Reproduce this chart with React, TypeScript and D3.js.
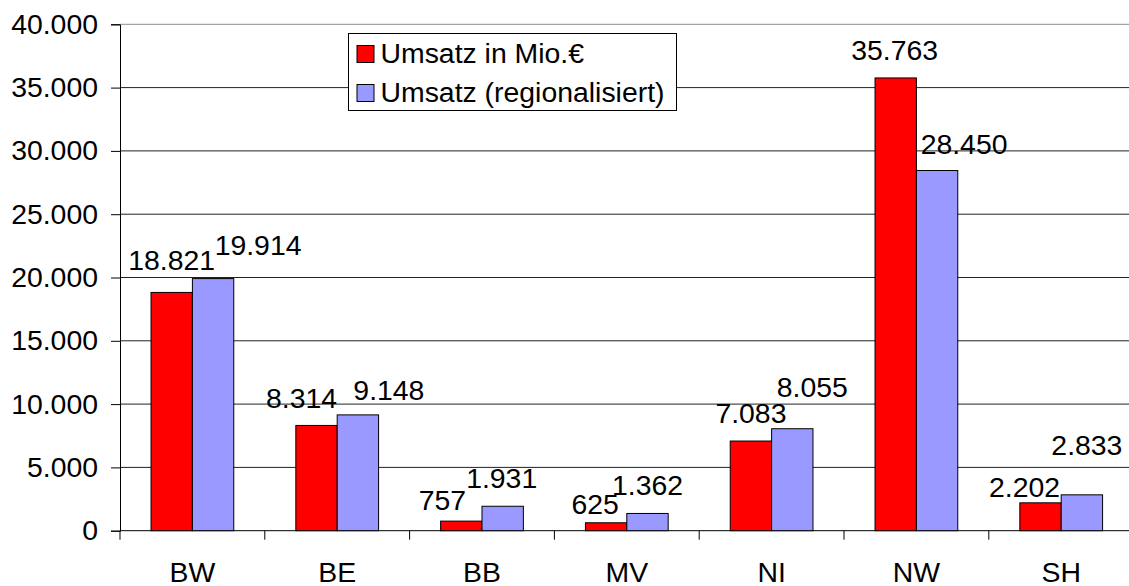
import React, { useRef, useEffect } from 'react';
import * as d3 from 'd3';

const categories = ['BW', 'BE', 'BB', 'MV', 'NI', 'NW', 'SH'];
const umsatz = [18821, 8314, 757, 625, 7083, 35763, 2202];
const umsatzRegional = [19914, 9148, 1931, 1362, 8055, 28450, 2833];
const yTicks = [0, 5000, 10000, 15000, 20000, 25000, 30000, 35000, 40000];
const seriesNames = ['Umsatz in Mio.€', 'Umsatz (regionalisiert)'];

// labels were dragged by hand in the original, so keep the offsets (dx, gap above bar)
const redLabelOffsets = [[0, 22], [-15, 17], [-19, 11], [-11, 9], [0, 18], [-1, 18], [-16, 6]];
const blueLabelOffsets = [[45, 24], [31, 15], [-1, 18], [0, 18], [20, 32], [27, 17], [5, 40]];

const W = 1129;
const H = 586;
const FONT = '"Liberation Sans", Arial, sans-serif';
const FS = 28.4;

const de = d3.formatLocale({ decimal: ',', thousands: '.', grouping: [3], currency: ['', '€'] });
const fmt = de.format(',d');

const App = () => {
  const svgRef = useRef<SVGSVGElement>(null);

  useEffect(() => {
    const svg = d3.select(svgRef.current).attr('width', W).attr('height', H);
    svg.selectAll('*').remove();

    const left = 120;
    const bandW = 144.8;
    const top = 24.3;
    const bottom = 530.7;

    // x: Kategorien
    const x = d3
      .scaleBand()
      .domain(categories)
      .range([left, left + bandW * categories.length])
      .paddingInner(0)
      .paddingOuter(0);

    // Balken innerhalb der Kategorie (Abstand 150%)
    const xInner = d3.scaleBand().domain(['a', 'b']).range([0, x.bandwidth()]).paddingInner(0).paddingOuter(0.75);

    const y = d3.scaleLinear().domain([0, 40000]).range([bottom, top]);

    // Gitternetzlinien
    svg
      .append('g')
      .selectAll('line')
      .data(yTicks.filter(d => d > 0))
      .enter()
      .append('line')
      .attr('x1', left)
      .attr('x2', W)
      .attr('y1', d => y(d))
      .attr('y2', d => y(d))
      .attr('stroke', d => (d === 40000 ? '#8c8c8c' : '#222'))
      .attr('stroke-width', 1);

    // Y-Achse
    const yAxis = svg
      .append('g')
      .attr('transform', `translate(${left},0)`)
      .call(d3.axisLeft(y).tickValues(yTicks).tickFormat(d => fmt(d as number)).tickSize(9).tickPadding(13));
    yAxis.select('.domain').attr('stroke', '#000');
    yAxis.selectAll('line').attr('stroke', '#000');
    yAxis.selectAll('text').attr('font-family', FONT).attr('font-size', FS).attr('fill', '#000');

    // X-Achse
    svg
      .append('line')
      .attr('x1', left)
      .attr('x2', W)
      .attr('y1', bottom)
      .attr('y2', bottom)
      .attr('stroke', '#000');
    const boundaries = categories.map(c => x(c) as number);
    svg
      .append('g')
      .selectAll('line')
      .data(boundaries)
      .enter()
      .append('line')
      .attr('x1', d => d)
      .attr('x2', d => d)
      .attr('y1', bottom)
      .attr('y2', bottom + 9)
      .attr('stroke', '#000');
    svg
      .append('g')
      .selectAll('text')
      .data(categories)
      .enter()
      .append('text')
      .attr('x', d => (x(d) as number) + x.bandwidth() / 2)
      .attr('y', 581.5)
      .attr('text-anchor', 'middle')
      .attr('font-family', FONT)
      .attr('font-size', FS)
      .text(d => d);

    // Balken
    const series = [
      { key: 'a', values: umsatz, color: '#ff0000', offsets: redLabelOffsets },
      { key: 'b', values: umsatzRegional, color: '#9999ff', offsets: blueLabelOffsets },
    ];

    series.forEach(s => {
      const g = svg.append('g');
      g.selectAll('rect')
        .data(s.values)
        .enter()
        .append('rect')
        .attr('x', (d, i) => (x(categories[i]) as number) + (xInner(s.key) as number))
        .attr('y', d => y(d))
        .attr('width', xInner.bandwidth())
        .attr('height', d => bottom - y(d))
        .attr('fill', s.color)
        .attr('stroke', '#000')
        .attr('stroke-width', 1);

      g.selectAll('text')
        .data(s.values)
        .enter()
        .append('text')
        .attr('x', (d, i) => (x(categories[i]) as number) + (xInner(s.key) as number) + xInner.bandwidth() / 2 + s.offsets[i][0])
        .attr('y', (d, i) => y(d) - s.offsets[i][1])
        .attr('text-anchor', 'middle')
        .attr('font-family', FONT)
        .attr('font-size', FS)
        .attr('fill', '#000')
        .text(d => fmt(d));
    });

    // Legende
    const legend = svg.append('g').attr('transform', 'translate(348.5,33.5)');
    legend.append('rect').attr('width', 328).attr('height', 77).attr('fill', '#fff').attr('stroke', '#000');
    series.forEach((s, i) => {
      legend
        .append('rect')
        .attr('x', 8.5)
        .attr('y', 12 + i * 39)
        .attr('width', 17)
        .attr('height', 17)
        .attr('fill', s.color)
        .attr('stroke', '#000');
      legend
        .append('text')
        .attr('x', 32)
        .attr('y', 29.5 + i * 39)
        .attr('font-family', FONT)
        .attr('font-size', FS)
        .attr('fill', '#000')
        .text(seriesNames[i]);
    });
  }, []);

  return <svg ref={svgRef} style={{ position: 'absolute', left: 0, top: 0, background: '#fff' }}></svg>;
};

export default App;
